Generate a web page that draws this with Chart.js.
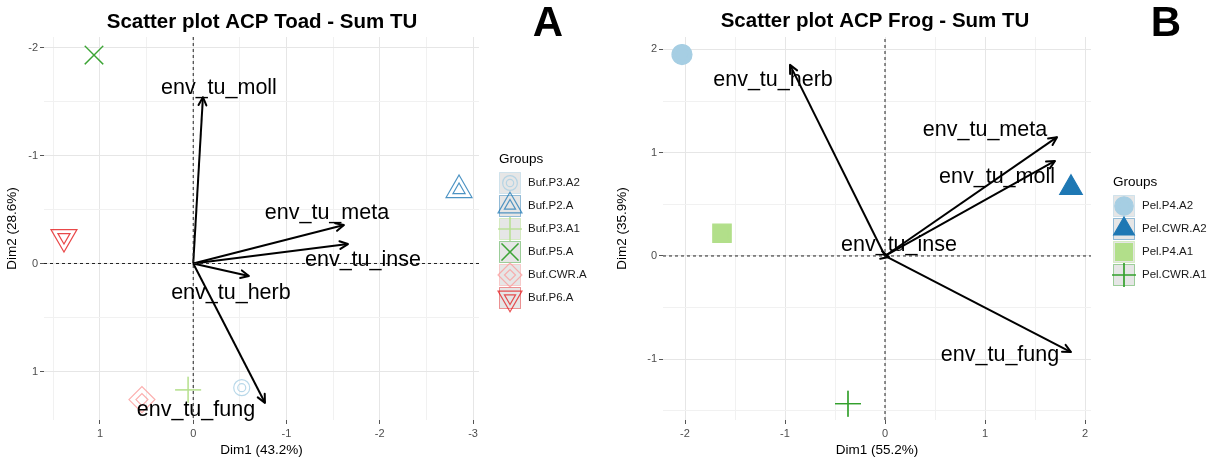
<!DOCTYPE html>
<html><head><meta charset="utf-8">
<script src="https://cdn.jsdelivr.net/npm/chart.js@4.4.0/dist/chart.umd.min.js"></script>
<style>
html,body{margin:0;padding:0;background:#fff;overflow:hidden}
#wrap{position:relative;width:1212px;height:463px}
canvas{position:absolute;top:0}
</style>
</head><body>
<div id="wrap">
<canvas id="cA" width="600" height="463" style="left:0px"></canvas>
<canvas id="cB" width="612" height="463" style="left:600px"></canvas>
</div>
<script>
// ---------- Panel A : Toad ----------
const toadGroups = ['Buf.P3.A2','Buf.P2.A','Buf.P3.A1','Buf.P5.A','Buf.CWR.A','Buf.P6.A'];
const toadDim1   = [-0.52, -2.85, 0.055, 1.064, 0.55, 1.386];
const toadDim2   = [1.15, -0.68, 1.17, -1.93, 1.26, -0.245];
const toadVars   = ['env_tu_moll','env_tu_meta','env_tu_inse','env_tu_herb','env_tu_fung'];
const toadVarDim1 = [-0.104, -1.616, -1.659, -0.597, -0.769];
const toadVarDim2 = [-1.54, -0.356, -0.18, 0.116, 1.29];
const toadXTicks = [1, 0, -1, -2, -3];
const toadYTicks = [-2, -1, 0, 1];

// ---------- Panel B : Frog ----------
const frogGroups = ['Pel.P4.A2','Pel.CWR.A2','Pel.P4.A1','Pel.CWR.A1'];
const frogDim1   = [-2.03, 1.86, -1.63, -0.37];
const frogDim2   = [1.95, 0.66, 0.22, -1.43];
const frogVars   = ['env_tu_herb','env_tu_meta','env_tu_moll','env_tu_inse','env_tu_fung'];
const frogVarDim1 = [-0.95, 1.72, 1.70, 0.04, 1.86];
const frogVarDim2 = [1.85, 1.15, 0.92, -0.01, -0.93];
const frogXTicks = [-2, -1, 0, 1, 2];
const frogYTicks = [-1, 0, 1, 2];

const FONT = '"Liberation Sans", Arial, Helvetica, sans-serif';
const rgba = (hex, a) => { const n = parseInt(hex.slice(1), 16); return `rgba(${n>>16&255},${n>>8&255},${n&255},${a})`; };

// styles (not data)
const toadStyles = [
  {shape:'circle',   color:'#A6CEE3', r:[8,4],   rot:0},
  {shape:'triangle', color:'#1F78B4', r:[15,7],  rot:0},
  {shape:'cross',    color:'#B2DF8A', r:[13,13], rot:0},
  {shape:'crossRot', color:'#33A02C', r:[13,13], rot:0},
  {shape:'rectRot',  color:'#FB9A99', r:[13,6],  rot:0},
  {shape:'triangle', color:'#E31A1C', r:[15,7],  rot:180}
];
const frogStyles = [
  {shape:'circle',   color:'#A6CEE3', r:[10,6],  rot:0},
  {shape:'triangle', color:'#1F78B4', r:[13,8],  rot:0},
  {shape:'rect',     color:'#B2DF8A', r:[13,8],  rot:0},
  {shape:'cross',    color:'#33A02C', r:[13,13], rot:0}
];

function gridValues(majors, min, max) {
  const s = [...majors].sort((a,b)=>a-b);
  const out = new Set(s);
  for (let i=0;i<s.length-1;i++) out.add((s[i]+s[i+1])/2);
  const step = s[1]-s[0];
  if (s[0]-step/2 >= min) out.add(s[0]-step/2);
  if (s[s.length-1]+step/2 <= max) out.add(s[s.length-1]+step/2);
  return [...out].sort((a,b)=>a-b);
}

function drawShape(ctx, shape, x, y, r, rot) {
  const rad = rot*Math.PI/180;
  ctx.beginPath();
  if (shape==='circle') { ctx.arc(x,y,r,0,2*Math.PI); }
  else if (shape==='triangle') {
    for (let k=0;k<3;k++){ const a = rad + k*2*Math.PI/3; const px = x + Math.sin(a)*r, py = y - Math.cos(a)*r; k?ctx.lineTo(px,py):ctx.moveTo(px,py);} ctx.closePath();
  } else if (shape==='cross') { ctx.moveTo(x-r,y); ctx.lineTo(x+r,y); ctx.moveTo(x,y-r); ctx.lineTo(x,y+r); }
  else if (shape==='crossRot') { const d=r*Math.SQRT1_2; ctx.moveTo(x-d,y-d); ctx.lineTo(x+d,y+d); ctx.moveTo(x-d,y+d); ctx.lineTo(x+d,y-d); }
  else if (shape==='rectRot') { ctx.moveTo(x-r,y); ctx.lineTo(x,y-r); ctx.lineTo(x+r,y); ctx.lineTo(x,y+r); ctx.closePath(); }
  else if (shape==='rect') { const d=r*Math.SQRT1_2; ctx.rect(x-d,y-d,2*d,2*d); }
}

function makePanel(cfg) {
  const xGrid = gridValues(cfg.xTicks, cfg.xMin, cfg.xMax);
  const yGrid = gridValues(cfg.yTicks, cfg.yMin, cfg.yMax);
  const isMajor = (arr, v) => arr.some(t => Math.abs(t - v) < 1e-9);

  const datasets = [];
  // reference lines at 0
  datasets.push({data:[{x:cfg.xMin,y:0},{x:cfg.xMax,y:0}], showLine:true, borderColor:'#222', borderWidth:1, borderDash:[3,3], pointRadius:0});
  datasets.push({data:[{x:0,y:cfg.yMin},{x:0,y:cfg.yMax}], showLine:true, borderColor:'#222', borderWidth:1, borderDash:[3,3], pointRadius:0});
  // group points (individual + group mean)
  cfg.groups.forEach((g,i) => {
    const st = cfg.styles[i];
    const p = {x:cfg.dim1[i], y:cfg.dim2[i]};
    datasets.push({
      label:g, data:[p,p], showLine:false, clip:false,
      pointStyle:st.shape, pointRotation:st.rot, pointRadius:st.r, pointHoverRadius:st.r,
      borderColor: rgba(st.color, cfg.filled ? 1 : 0.8),
      backgroundColor: cfg.filled && st.shape!=='cross' ? st.color : 'rgba(0,0,0,0)',
      pointBorderWidth: 1.2
    });
  });
  // variable arrows
  cfg.vars.forEach((v,i) => {
    datasets.push({label:v, data:[{x:0,y:0},{x:cfg.varX[i],y:cfg.varY[i]}], showLine:true, borderColor:'#000', borderWidth:2, pointRadius:0, clip:false});
  });

  const decor = {
    id:'decor'+cfg.id,
    afterDatasetsDraw(chart) {
      const {ctx} = chart; const x = chart.scales.x, y = chart.scales.y;
      const ox = x.getPixelForValue(0), oy = y.getPixelForValue(0);
      ctx.save();
      ctx.strokeStyle='#000'; ctx.lineWidth=2; ctx.lineCap='round'; ctx.lineJoin='round';
      cfg.varX.forEach((vx,i) => {
        const tx = x.getPixelForValue(vx), ty = y.getPixelForValue(cfg.varY[i]);
        const a = Math.atan2(ty-oy, tx-ox), L = 9, s = 0.45;
        ctx.beginPath();
        ctx.moveTo(tx - L*Math.cos(a-s), ty - L*Math.sin(a-s));
        ctx.lineTo(tx, ty);
        ctx.lineTo(tx - L*Math.cos(a+s), ty - L*Math.sin(a+s));
        ctx.stroke();
      });
      ctx.font = '21.5px ' + FONT; ctx.fillStyle = '#000'; ctx.textAlign='center'; ctx.textBaseline='middle';
      cfg.vars.forEach((name,i) => {
        const tx = x.getPixelForValue(cfg.varX[i]), ty = y.getPixelForValue(cfg.varY[i]);
        const [dx,dy] = cfg.labelOffsets[i];
        ctx.fillText(name, tx+dx, ty+dy);
      });
      ctx.restore();
    },
    afterDraw(chart) {
      const {ctx} = chart;
      ctx.save();
      ctx.fillStyle = '#000'; ctx.textBaseline = 'middle'; ctx.textAlign = 'center';
      ctx.font = 'bold 20.5px ' + FONT;
      ctx.fillText(cfg.title, cfg.titleX, cfg.titleY);
      ctx.font = 'bold 42px ' + FONT;
      ctx.fillText(cfg.letter, cfg.letterX, cfg.letterY);
      // legend
      ctx.textAlign = 'left';
      ctx.font = '13.5px ' + FONT; ctx.fillStyle = '#000';
      ctx.fillText('Groups', cfg.legX, cfg.legTitleY);
      ctx.font = '11.5px ' + FONT;
      cfg.groups.forEach((g,i) => {
        const st = cfg.styles[i];
        const yc = cfg.legRow0 + i*cfg.legStep, xc = cfg.legX + 11;
        ctx.fillStyle = '#e6e6e6'; ctx.fillRect(cfg.legX+0.5, yc-10.5, 21, 21);
        ctx.strokeStyle = rgba(st.color, 0.45); ctx.lineWidth = 1; ctx.strokeRect(cfg.legX+0.5, yc-10.5, 21, 21);
        ctx.strokeStyle = rgba(st.color, cfg.filled ? 1 : 0.75); ctx.lineWidth = 1.2;
        st.r.forEach(r => {
          const rr = r*0.92;
          drawShape(ctx, st.shape, xc, yc, rr, st.rot);
          if (cfg.filled && st.shape !== 'cross') { ctx.fillStyle = st.color; ctx.fill(); }
          ctx.stroke();
        });
        ctx.fillStyle = '#1a1a1a';
        ctx.fillText(g, cfg.legX + 29, yc);
      });
      ctx.restore();
    }
  };

  const tickFont = {family: FONT, size: 11};
  const titleFont = {family: FONT, size: 13.5};
  const gridCfg = (majors) => ({
    color: c => isMajor(majors, c.tick.value) ? '#e6e6e6' : '#f1f1f1',
    lineWidth: 1,
    tickColor: c => isMajor(majors, c.tick.value) ? '#555' : 'rgba(0,0,0,0)',
    tickLength: 4, tickWidth: 1, drawTicks: true
  });

  return new Chart(document.getElementById(cfg.canvas), {
    type:'scatter',
    data:{datasets},
    options:{
      responsive:false, animation:false, devicePixelRatio:1, events:[],
      layout:{padding:{left:cfg.padLeft, right:cfg.padRight, top:37, bottom:5}},
      plugins:{legend:{display:false}, tooltip:{enabled:false}, title:{display:false}},
      scales:{
        x:{type:'linear', min:cfg.xMin, max:cfg.xMax, reverse:cfg.reverse,
          afterBuildTicks: s => { s.ticks = xGrid.map(v => ({value:v})); },
          afterFit: s => { s.height = 38; },
          ticks:{font:tickFont, color:'#4d4d4d', padding:3, autoSkip:false, maxRotation:0, includeBounds:false,
            callback: v => isMajor(cfg.xTicks, v) ? String(Math.round(v)) : ''},
          grid:gridCfg(cfg.xTicks), border:{display:false},
          title:{display:true, text:cfg.xTitle, font:titleFont, color:'#000', padding:{top:0,bottom:0}}
        },
        y:{type:'linear', min:cfg.yMin, max:cfg.yMax, reverse:cfg.reverse,
          afterBuildTicks: s => { s.ticks = yGrid.map(v => ({value:v})); },
          afterFit: s => { s.width = cfg.yAxisW; },
          ticks:{font:tickFont, color:'#4d4d4d', padding:2, autoSkip:false, includeBounds:false,
            callback: v => isMajor(cfg.yTicks, v) ? String(Math.round(v)) : ''},
          grid:gridCfg(cfg.yTicks), border:{display:false},
          title:{display:true, text:cfg.yTitle, font:titleFont, color:'#000', padding:{top:4,bottom:0}}
        }
      }
    },
    plugins:[decor]
  });
}

makePanel({
  id:'A', canvas:'cA',
  title:'Scatter plot ACP Toad - Sum TU', titleX:262, titleY:22,
  letter:'A', letterX:548, letterY:24,
  xTitle:'Dim1 (43.2%)', yTitle:'Dim2 (28.6%)',
  xMin:-3.064, xMax:1.60, yMin:-2.097, yMax:1.449, reverse:true,
  xTicks:toadXTicks, yTicks:toadYTicks,
  padLeft:0, yAxisW:44, padRight:121,
  groups:toadGroups, dim1:toadDim1, dim2:toadDim2, styles:toadStyles, filled:false,
  vars:toadVars, varX:toadVarDim1, varY:toadVarDim2,
  labelOffsets:[[16,-9],[-17,-12],[15,16],[-18,17],[-69,7]],
  legX:499, legTitleY:159, legRow0:183, legStep:23
});

makePanel({
  id:'B', canvas:'cB',
  title:'Scatter plot ACP Frog - Sum TU', titleX:275, titleY:21,
  letter:'B', letterX:566, letterY:24,
  xTitle:'Dim1 (55.2%)', yTitle:'Dim2 (35.9%)',
  xMin:-2.22, xMax:2.06, yMin:-1.588, yMax:2.12, reverse:false,
  xTicks:frogXTicks, yTicks:frogYTicks,
  padLeft:10, yAxisW:53, padRight:121,
  groups:frogGroups, dim1:frogDim1, dim2:frogDim2, styles:frogStyles, filled:true,
  vars:frogVars, varX:frogVarDim1, varY:frogVarDim2,
  labelOffsets:[[-17,15],[-72,-7],[-58,16],[10,-12],[-71,3]],
  legX:513, legTitleY:182, legRow0:206, legStep:23
});
</script>
</body></html>
